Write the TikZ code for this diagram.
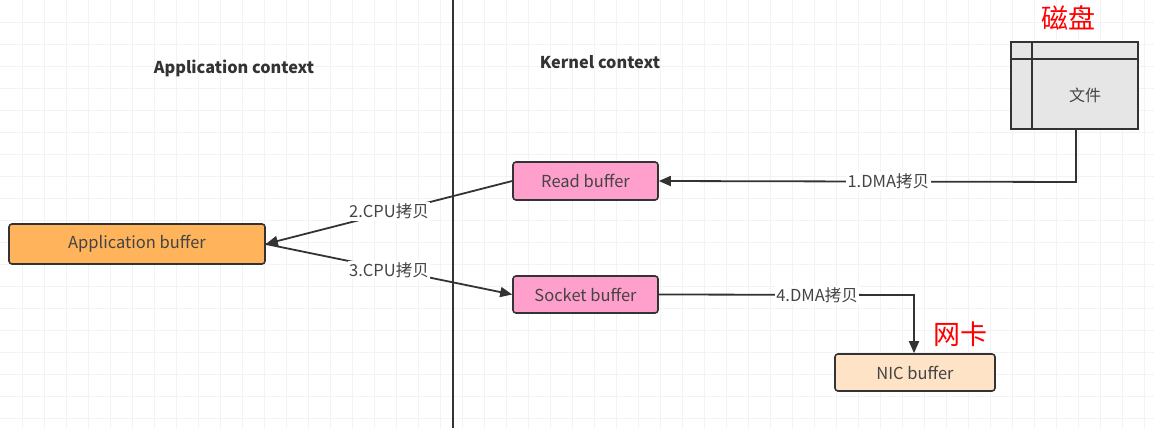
\documentclass[tikz,border=0pt]{standalone}
\usepackage{fontspec}
\setmainfont{Noto Sans CJK SC}
\usetikzlibrary{arrows.meta}
\definecolor{edge}{HTML}{333333}
\definecolor{appfill}{HTML}{FFB35A}
\definecolor{pinkfill}{HTML}{FF9FCB}
\definecolor{nicfill}{HTML}{FFE3C6}
\definecolor{filefill}{HTML}{E6E6E6}
\definecolor{txt}{HTML}{444444}
\definecolor{gridc}{HTML}{F3F3F3}
\tikzset{
  buf/.style={draw=edge, line width=1.6pt, rounded corners=3pt, inner sep=0pt, text=txt, font=\fontsize{16.5}{18}\selectfont},
  conn/.style={draw=edge, line width=1.8pt, -{Triangle[length=12pt,width=10pt]}},
  lbl/.style={fill=white, inner sep=1.5pt, text=txt, font=\fontsize{16.5}{18}\selectfont},
  title/.style={text=edge, font=\fontsize{16.3}{18}\selectfont\bfseries},
  redlbl/.style={text=red, font=\fontsize{27}{30}\selectfont}
}
\begin{document}
\begin{tikzpicture}[x=1pt,y=-1pt]
\useasboundingbox (0,0) rectangle (1154,428);
\fill[white] (0,0) rectangle (1154,428);
% faint grid
\foreach \gx in {22,44,...,1154} \draw[gridc, line width=0.6pt] (\gx,0) -- (\gx,428);
\foreach \gy in {22,44,...,428} \draw[gridc, line width=0.6pt] (0,\gy) -- (1154,\gy);
% divider
\draw[edge, line width=1.6pt] (453,0) -- (453,428);
\node[title] (appctx) at (234,68) {Application context};
\node[title] (kerctx) at (600,62) {Kernel context};
% nodes
\node[buf, fill=appfill, minimum width=256pt, minimum height=40pt] (app) at (137,244) {Application buffer};
\node[buf, fill=pinkfill, minimum width=145pt, minimum height=38pt] (read) at (585.5,181) {Read buffer};
\node[buf, fill=pinkfill, minimum width=145pt, minimum height=37pt] (sock) at (585.5,294.5) {Socket buffer};
\node[buf, fill=nicfill, minimum width=160pt, minimum height=37pt] (nic) at (915,372.5) {NIC buffer};
% file box
\node[draw=edge, line width=1.8pt, fill=filefill, minimum width=127pt, minimum height=87pt, inner sep=0pt] (file) at (1074.5,85.5) {};
\draw[edge, line width=1.8pt] (file.north west |- 0,59) -- (file.north east |- 0,59);
\draw[edge, line width=1.8pt] (1032,0 |- file.north) -- (1032,0 |- file.south);
\node[text=txt, font=\fontsize{16}{18}\selectfont] (filetxt) at (1085,95) {文件};
\node[redlbl] (disk) at (1068,18) {磁盘};
\node[redlbl] (nicred) at (960,334) {网卡};
% connectors
\coordinate (c1) at (1076,182);
\draw[conn] (file.south -| c1) -- (c1) -- node[lbl, pos=0.45]{1.DMA拷贝} (read.east);
\draw[conn] (read.west) -- node[lbl, pos=0.5, yshift=1pt]{2.CPU拷贝} (app.east);
\draw[conn] (app.east) -- node[lbl, pos=0.5, yshift=-1pt]{3.CPU拷贝} (sock.west);
\coordinate (c4) at (914,295);
\draw[conn] (sock.east) -- node[lbl, pos=0.62]{4.DMA拷贝} (c4) -- (nic.north -| c4);
\end{tikzpicture}
\end{document}
